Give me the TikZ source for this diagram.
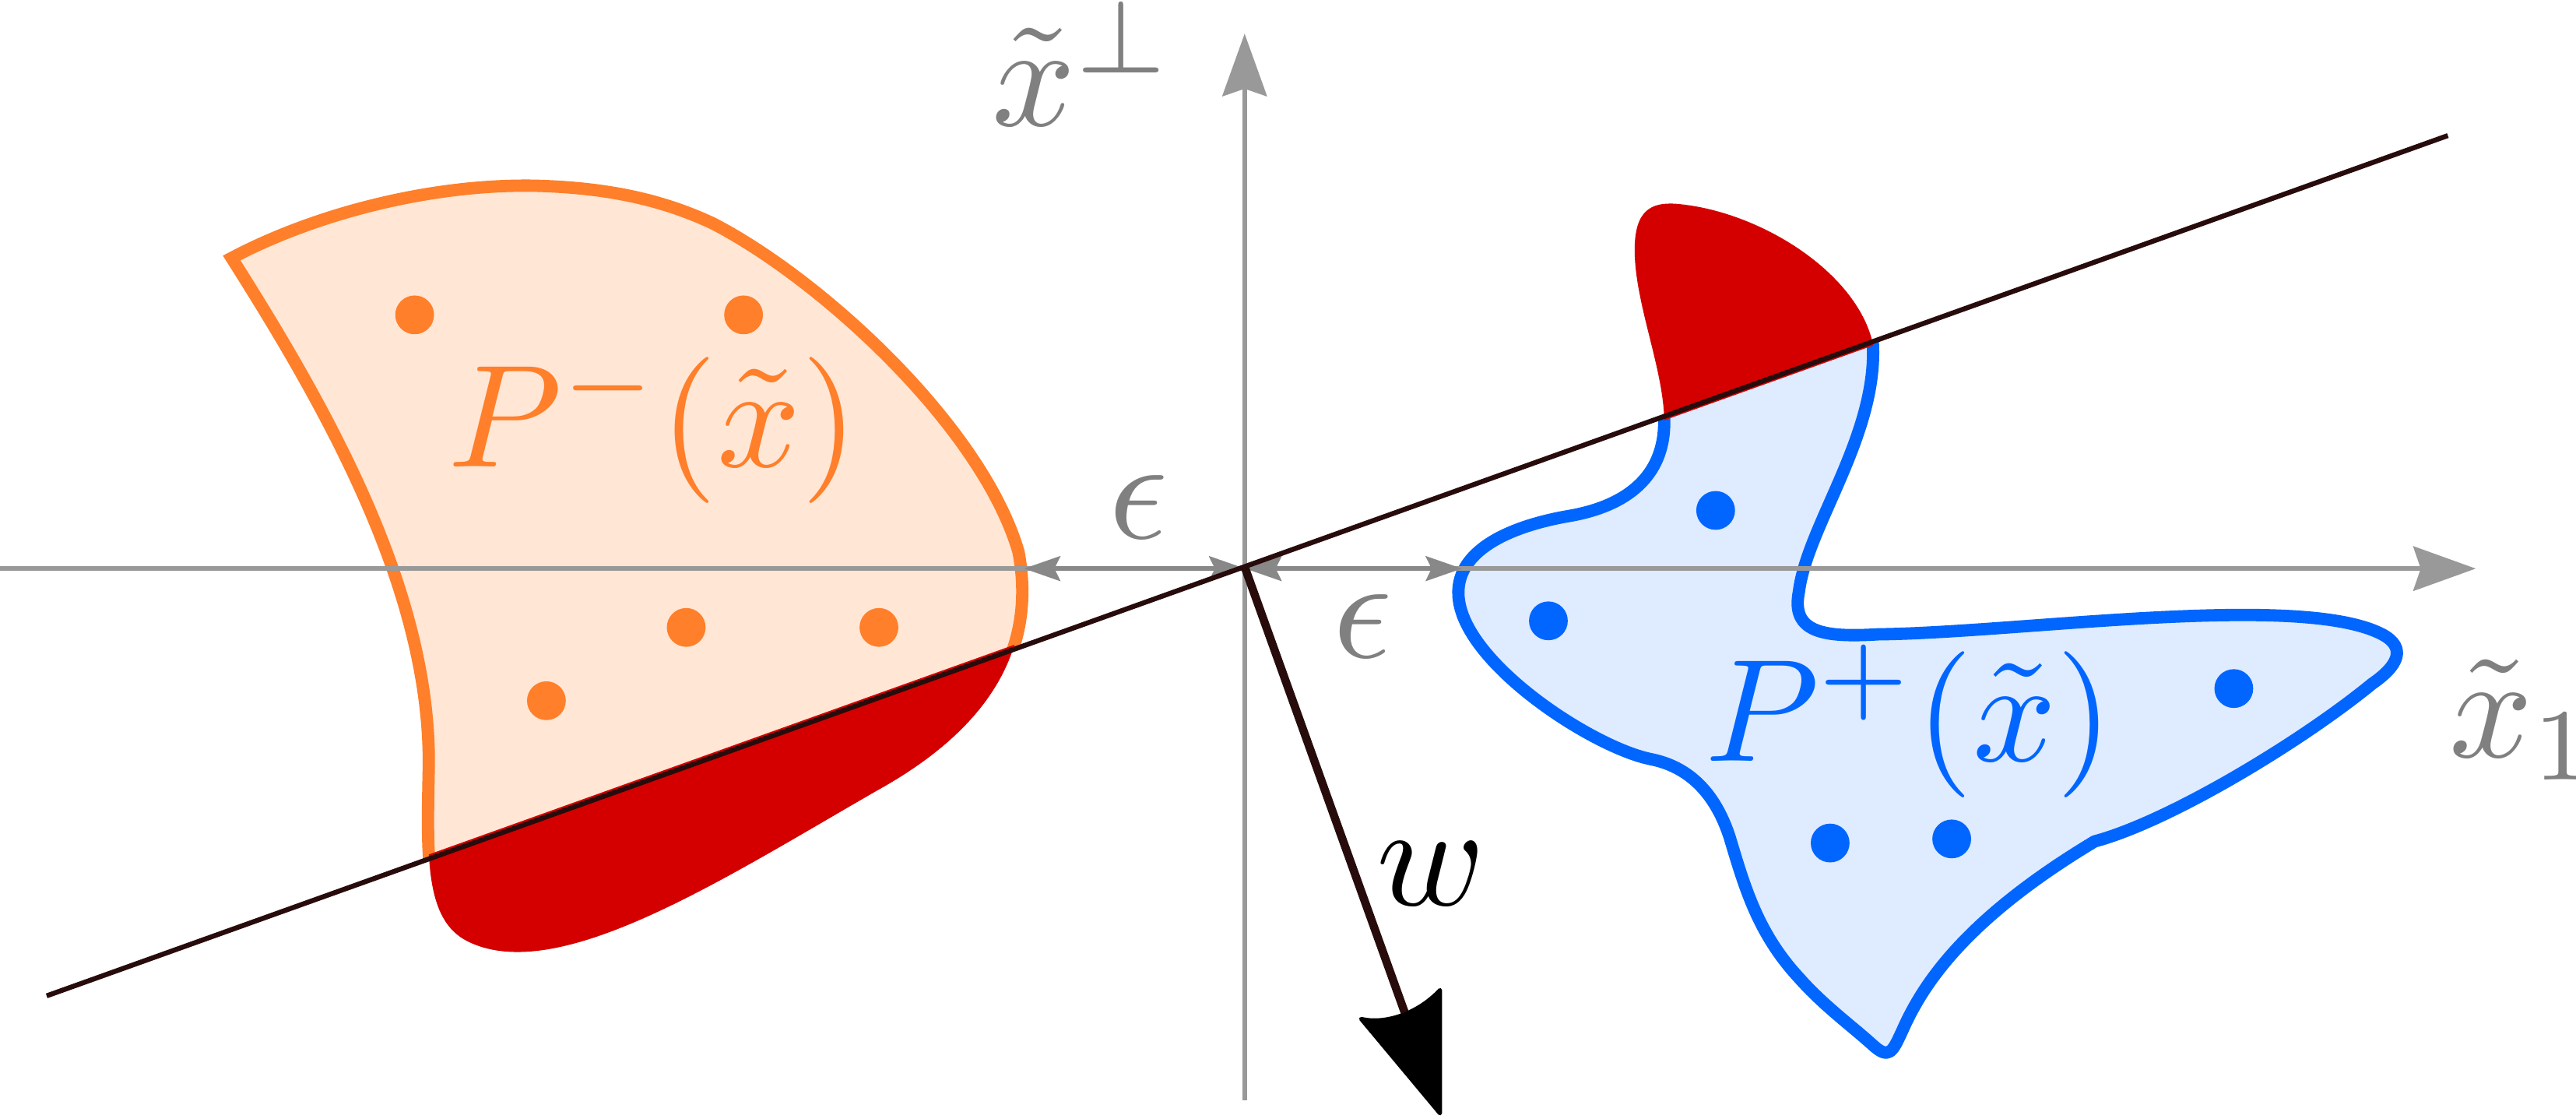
\documentclass[tikz,border=0pt]{standalone}
\usetikzlibrary{arrows.meta}
\definecolor{orng}{HTML}{FF7F2A}
\definecolor{peach}{HTML}{FFE6D5}
\definecolor{blu}{HTML}{0066FF}
\definecolor{lblu}{HTML}{DFEBFF}
\definecolor{redd}{HTML}{D40000}
\definecolor{dline}{HTML}{280B0B}
\definecolor{axgray}{HTML}{999999}
\definecolor{epsgray}{HTML}{888888}
\definecolor{txtgray}{HTML}{808080}
\newcommand{\myOrangePath}{(141,157) .. controls (190,131) and (260,112) .. (325,113)
 .. controls (365,114) and (400,120) .. (434,136)
 .. controls (500,170) and (598,260) .. (620,336)
 .. controls (630,390) and (608,440) .. (534,481)
 .. controls (440,535) and (340,600) .. (285,573)
 .. controls (258,560) and (260,520) .. (261,466)
 .. controls (262,360) and (200,250) .. (141,157) -- cycle}
\newcommand{\myBluePath}{(1013,257) .. controls (1013,225) and (995,185) .. (995,152)
 .. controls (995,128) and (1005,123) .. (1020,124)
 .. controls (1070,128) and (1130,165) .. (1140,209)
 .. controls (1143,265) and (1100,320) .. (1095,360)
 .. controls (1090,385) and (1110,388) .. (1143,386)
 .. controls (1230,385) and (1400,360) .. (1450,386)
 .. controls (1465,394) and (1460,405) .. (1444,416)
 .. controls (1400,452) and (1320,500) .. (1275,512)
 .. controls (1195,560) and (1170,600) .. (1158,627)
 .. controls (1152,640) and (1150,645) .. (1140,636)
 .. controls (1128,625) and (1110,612) .. (1095,595)
 .. controls (1070,568) and (1062,540) .. (1053,510)
 .. controls (1045,485) and (1030,467) .. (1005,462)
 .. controls (970,455) and (893,405) .. (888,365)
 .. controls (884,335) and (920,320) .. (955,314)
 .. controls (990,308) and (1013,290) .. (1013,257) -- cycle}
\tikzset{
  axisline/.style={draw=axgray, line width=0.28mm, -{Stealth[length=3.8mm,width=2.7mm,inset=0.45mm]}},
  epsarrow/.style={draw=epsgray, line width=0.28mm,
     {Stealth[length=2.2mm,width=1.5mm,inset=0.35mm]}-{Stealth[length=2.2mm,width=1.5mm,inset=0.35mm]}},
  hyperline/.style={draw=dline, line width=0.3mm},
  wline/.style={draw=dline, line width=0.5mm},
  lbl/.style={inner sep=0pt, anchor=base west, scale=2.53},
  dotO/.style={circle, fill=orng, inner sep=0pt, minimum size=2.36mm},
  dotB/.style={circle, fill=blu, inner sep=0pt, minimum size=2.36mm},
  orangeshape/.style={fill=peach, draw=orng, line width=0.75mm, line join=miter},
  blueshape/.style={fill=lblu, draw=blu, line width=0.75mm, line join=round},
}
\begin{document}
\begin{tikzpicture}[x=0.1mm, y=-0.1mm]
\useasboundingbox (0,0) rectangle (1568,680.5);
% key points
\coordinate (O) at (758,346);
\coordinate (xstart) at (0,346);
\coordinate (xend) at (1507,346);
\coordinate (ybot) at (757.6,669.4);
\coordinate (yend) at (757.6,20.5);
\coordinate (epsL) at (623.3,346);
\coordinate (epsR) at (889.9,346);
\coordinate (Lstart) at (28.4,606);
\coordinate (Lend) at (1490,82.5);
\coordinate (wend) at (855,616);
% orange set: above hyperplane
\begin{scope}
  \clip (-200,687.5) -- (1800,-28.5) -- (1800,-1000) -- (-200,-1000) -- cycle;
  \path[orangeshape] \myOrangePath;
\end{scope}
\begin{scope}
  \clip (-200,685) -- (1800,-31) -- (1800,1500) -- (-200,1500) -- cycle;
  \fill[redd] \myOrangePath;
\end{scope}
% blue set: below hyperplane
\begin{scope}
  \clip (-200,687.5) -- (1800,-28.5) -- (1800,1500) -- (-200,1500) -- cycle;
  \path[blueshape] \myBluePath;
\end{scope}
\begin{scope}
  \clip (-200,690) -- (1800,-26) -- (1800,-1000) -- (-200,-1000) -- cycle;
  \fill[redd] \myBluePath;
\end{scope}
% points
\node[dotO] (o1) at (252.4,191.6) {};
\node[dotO] (o2) at (452.6,191.6) {};
\node[dotO] (o3) at (417.7,381.8) {};
\node[dotO] (o4) at (535,381.8) {};
\node[dotO] (o5) at (332.6,426.4) {};
\node[dotB] (b1) at (1044.3,310.6) {};
\node[dotB] (b2) at (942.5,377.8) {};
\node[dotB] (b3) at (1359.7,419) {};
\node[dotB] (b4) at (1114,513) {};
\node[dotB] (b5) at (1188,510.5) {};
% axes
\draw[axisline] (xstart) -- (xend);
\draw[axisline] (ybot) -- (yend);
% epsilon arrows
\draw[epsarrow] (epsL) -- (O);
\draw[epsarrow] (O) -- (epsR);
% hyperplane
\draw[hyperline] (Lstart) -- (Lend);
% normal vector w
\draw[wline] (O) -- (wend);
\filldraw[black, line width=0.25mm, line join=round] (876.5,677.5) -- (828.5,620) .. controls (843,623.5) and (863,617) .. (876.5,602.5) -- cycle;
% labels
\node[lbl, text=orng] (Pm) at (271,284) {$P^-(\tilde{x})$};
\node[lbl, text=blu] (Pp) at (1036,463) {$P^+(\tilde{x})$};
\node[lbl, text=txtgray] (xperp) at (602,76.6) {$\tilde{x}^\perp$};
\node[lbl, text=txtgray] (xone) at (1489,461) {$\tilde{x}_1$};
\node[lbl, text=txtgray] (eps1) at (673,327.5) {$\epsilon$};
\node[lbl, text=txtgray] (eps2) at (809.5,400) {$\epsilon$};
\node[lbl, text=black] (wlab) at (836,551) {$w$};
\end{tikzpicture}
\end{document}
